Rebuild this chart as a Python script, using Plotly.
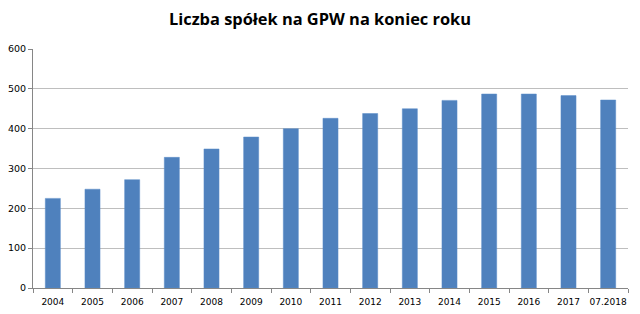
import plotly.graph_objects as go

years = ["2004", "2005", "2006", "2007", "2008", "2009", "2010", "2011",
         "2012", "2013", "2014", "2015", "2016", "2017", "07.2018"]
companies = [225, 248, 272, 328, 349, 379, 400, 426, 438, 450, 471, 487, 487, 483, 472]

fig = go.Figure(go.Bar(
    x=years, y=companies,
    marker=dict(color="#4F81BD", line=dict(color="#5B8DC8", width=0.5)),
    width=0.38,
))

fig.update_layout(
    width=640, height=314,
    margin=dict(l=33, r=12, t=49, b=26),
    paper_bgcolor="white", plot_bgcolor="white",
    title=dict(text="<b>Liczba spółek na GPW na koniec roku</b>",
               x=0.5, xanchor="center", y=0.94, yanchor="middle",
               font=dict(family="Open Sans", size=16.4, color="black")),
    showlegend=False,
    bargap=0.62,
)
fig.update_xaxes(
    type="category",
    showline=True, linecolor="#868686", linewidth=1,
    ticks="outside", tickson="boundaries", ticklen=4, tickcolor="#868686",
    tickangle=0, automargin=False, ticklabelstandoff=5,
    tickfont=dict(family="DejaVu Sans", size=9, color="black"),
    showgrid=False,
)
fig.update_yaxes(
    range=[0, 600], dtick=100,
    showline=True, linecolor="#868686", linewidth=1,
    ticks="outside", ticklen=4, tickcolor="#868686",
    automargin=False,
    tickfont=dict(family="DejaVu Sans", size=9.5, color="black"),
    showgrid=True, gridcolor="#BEBEBE", gridwidth=1,
    zeroline=False,
)

fig.write_html("out.html")
